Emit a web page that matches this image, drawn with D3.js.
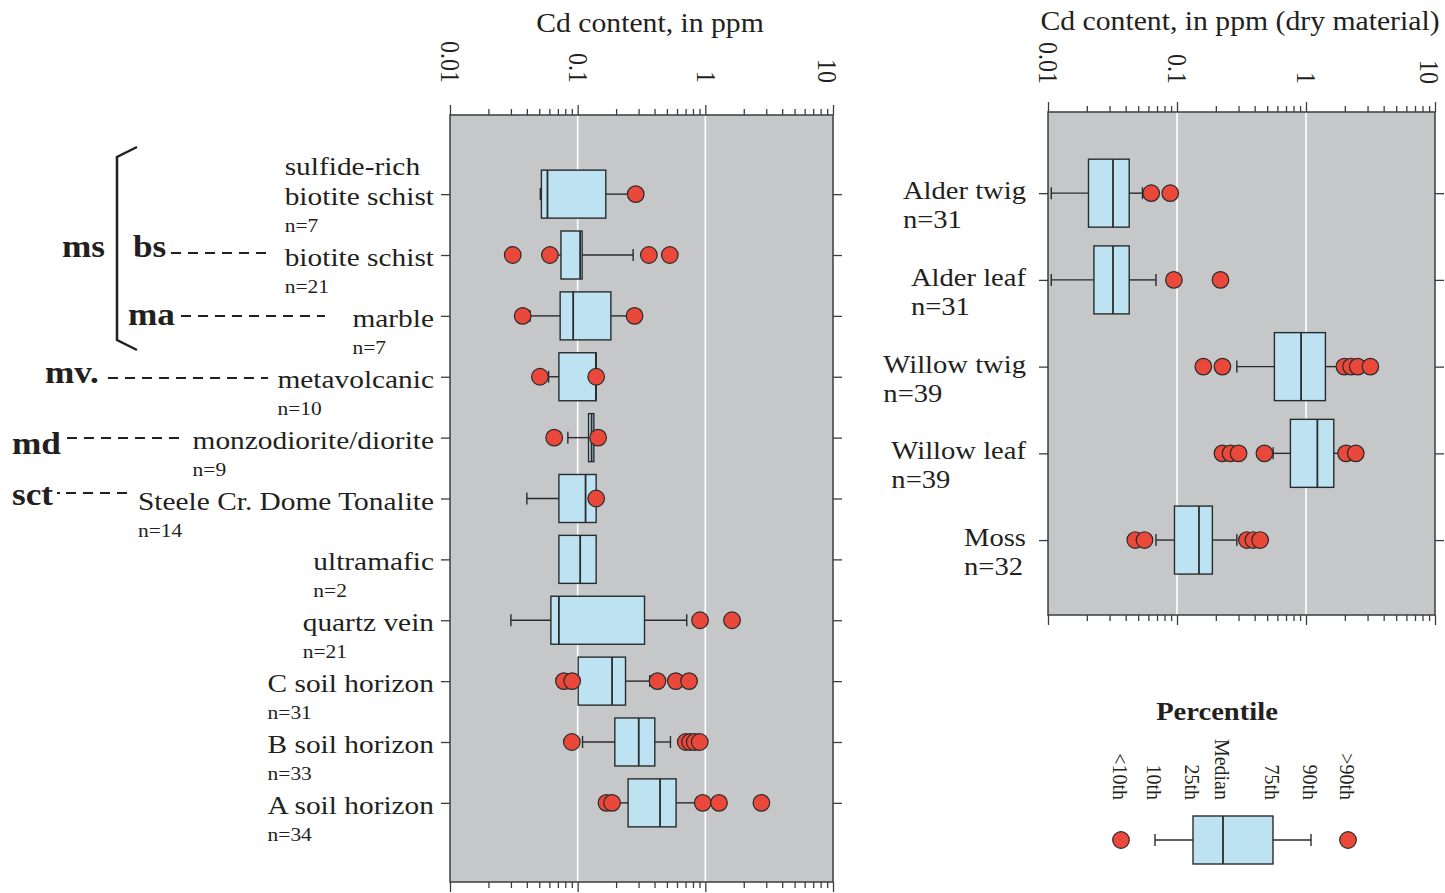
<!DOCTYPE html>
<html lang="en">
<head>
<meta charset="UTF-8">
<title>Cd content</title>
<script src="https://d3js.org/d3.v7.min.js"></script>
<style>
    * { margin: 0; padding: 0; }
    body { background: #fff; }
    svg { display: block; font-family: "Liberation Serif", "Times New Roman", serif; }
</style>
</head>
<body>
<svg id="chart" width="1445" height="893"></svg>
<script>
// left panel: rocks, veins and soils (Cd, ppm)
const leftCats = ['sulfide-rich\nbiotite schist', 'biotite schist', 'marble', 'metavolcanic',
    'monzodiorite/diorite', 'Steele Cr. Dome Tonalite', 'ultramafic', 'quartz vein',
    'C soil horizon', 'B soil horizon', 'A soil horizon'];
const leftN   = [7, 21, 7, 10, 9, 14, 2, 21, 31, 33, 34];
const leftP10 = [0.051, 0.0675, 0.0423, 0.0592, 0.0838, 0.040, 0.0713, 0.030, 0.1009, 0.1092, 0.20];
const leftQ1  = [0.052, 0.074, 0.0729, 0.0713, 0.1217, 0.0713, 0.0713, 0.0617, 0.1009, 0.1955, 0.2484];
const leftMed = [0.058, 0.1046, 0.0922, 0.139, 0.1285, 0.1153, 0.1046, 0.0713, 0.186, 0.301, 0.442];
const leftQ3  = [0.166, 0.1084, 0.182, 0.1396, 0.1339, 0.1396, 0.1396, 0.334, 0.237, 0.402, 0.590];
const leftP90 = [0.26, 0.272, 0.264, 0.1396, 0.1339, 0.1396, 0.1396, 0.715, 0.367, 0.533, 0.90];
const leftOut = [
    [0.285],
    [0.031, 0.0606, 0.361, 0.527],
    [0.0371, 0.279],
    [0.0506, 0.1396],
    [0.0655, 0.1446],
    [0.1396],
    [],
    [0.909, 1.618],
    [0.078, 0.0906, 0.422, 0.587, 0.746],
    [0.090, 0.7025, 0.76, 0.826, 0.904],
    [0.168, 0.186, 0.954, 1.28, 2.748]
];

// right panel: vegetation (Cd, ppm dry material)
const rightCats = ['Alder twig', 'Alder leaf', 'Willow twig', 'Willow leaf', 'Moss'];
const rightN   = [31, 31, 39, 39, 32];
const rightP10 = [0.0106, 0.0106, 0.291, 0.556, 0.0687];
const rightQ1  = [0.0206, 0.0227, 0.569, 0.757, 0.0956];
const rightMed = [0.0319, 0.0319, 0.916, 1.225, 0.148];
const rightQ3  = [0.0426, 0.0426, 1.414, 1.642, 0.188];
const rightP90 = [0.054, 0.0687, 1.84, 1.84, 0.291];
const rightOut = [
    [0.0631, 0.0886],
    [0.0946, 0.2173],
    [0.160, 0.225, 1.984, 2.236, 2.519, 3.154],
    [0.225, 0.26, 0.30, 0.476, 2.045, 2.431],
    [0.0475, 0.056, 0.348, 0.391, 0.441]
];

// axis ticks
const majorVals = [0.01, 0.1, 1, 10];
const majorLabels = ['0.01', '0.1', '1', '10'];
const legendLabels = ['<10th', '10th', '25th', 'Median', '75th', '90th', '>90th'];
const groupCodes = ['ms', 'bs', 'ma', 'mv.', 'md', 'sct'];

const SX = 1.1;            // text in the original is a bit wide
const SXL = 1.13;          // category labels are wider still
const TEXT = '#231f20';
const AXIS = '#3d3d3d';
const GRAY = '#c6c7c9';
const BOX = '#bde3f3';
const DOT = '#e9483a';

const svg = d3.select('#chart');

const tickVals = [];
[0.01, 0.1, 1].forEach(d => {
    for (let k = 1; k <= 9; k++) tickVals.push(+(k * d).toPrecision(6));
});
tickVals.push(10);
const isMajor = d => Math.abs(Math.log10(d) - Math.round(Math.log10(d))) < 1e-9;

function txt(g, x, y, s, size, anchor, weight, sx) {
    return g.append('text')
        .attr('transform', `translate(${x},${y}) scale(${sx || SX},1)`)
        .attr('text-anchor', anchor || 'start')
        .attr('fill', TEXT)
        .style('font-size', size + 'px')
        .style('font-weight', weight || 'normal')
        .text(s);
}

function logAxis(g, x, orient, ty, labelY) {
    const ax = (orient === 'top' ? d3.axisTop(x) : d3.axisBottom(x))
        .tickValues(tickVals)
        .tickSize(6)
        .tickSizeOuter(0)
        .tickFormat(d => {
            const k = majorVals.findIndex(m => Math.abs(m - d) < 1e-9);
            return (orient === 'top' && k >= 0) ? majorLabels[k] : '';
        });
    const a = g.append('g').attr('transform', `translate(0,${ty})`).call(ax);
    a.attr('font-size', null).attr('font-family', null).attr('color', AXIS);
    a.select('.domain').remove();
    a.selectAll('.tick line').attr('stroke-width', 1.3)
        .filter(d => isMajor(d))
        .attr('y2', orient === 'top' ? -10 : 10);
    if (orient === 'top') {
        a.selectAll('.tick text')
            .attr('x', 0).attr('y', 0).attr('dy', '0.35em')
            .attr('text-anchor', 'end')
            .attr('fill', TEXT)
            .style('font-size', '24px')
            // the last label sits a little inside the frame, as in the original
            .attr('transform', d => `translate(${d >= 10 ? -6 : 0},${labelY - ty}) scale(${SX},1) rotate(90)`);
    }
}

function panel(cfg) {
    const g = svg.append('g');
    const x = d3.scaleLog().domain([0.01, 10]).range([cfg.x0, cfg.x1]);
    const y = d3.scalePoint().domain(cfg.cats).range([cfg.y0, cfg.y1])
        .padding(cfg.pad).align(cfg.align);

    g.append('rect')
        .attr('x', cfg.x0).attr('y', cfg.y0)
        .attr('width', cfg.x1 - cfg.x0).attr('height', cfg.y1 - cfg.y0)
        .attr('fill', GRAY);

    g.selectAll('line.grid').data([0.1, 1]).join('line')
        .attr('class', 'grid')
        .attr('x1', d => x(d)).attr('x2', d => x(d))
        .attr('y1', cfg.y0).attr('y2', cfg.y1)
        .attr('stroke', '#fff').attr('stroke-width', 1.6);

    logAxis(g, x, 'top', cfg.y0, cfg.tickLabelY);
    logAxis(g, x, 'bottom', cfg.y1);

    [['left', cfg.x0], ['right', cfg.x1]].forEach(([side, px]) => {
        const ax = (side === 'left' ? d3.axisLeft(y) : d3.axisRight(y))
            .tickSize(9).tickSizeOuter(0).tickFormat('');
        const a = g.append('g').attr('transform', `translate(${px},0)`).call(ax);
        a.attr('color', AXIS);
        a.select('.domain').remove();
        a.selectAll('.tick line').attr('stroke-width', 1.3);
    });

    g.append('rect')
        .attr('x', cfg.x0).attr('y', cfg.y0)
        .attr('width', cfg.x1 - cfg.x0).attr('height', cfg.y1 - cfg.y0)
        .attr('fill', 'none').attr('stroke', AXIS).attr('stroke-width', 1.5);

    const rows = cfg.cats.map((c, i) => ({
        cat: c, n: cfg.n[i], p10: cfg.p10[i], q1: cfg.q1[i], med: cfg.med[i],
        q3: cfg.q3[i], p90: cfg.p90[i], out: cfg.out[i]
    }));
    const h = cfg.boxH;

    const rg = g.selectAll('g.row').data(rows).join('g')
        .attr('class', 'row')
        .attr('transform', d => `translate(0,${y(d.cat)})`);

    rg.each(function (d) {
        const r = d3.select(this);
        const ln = (x1, y1, x2, y2) => r.append('line')
            .attr('x1', x1).attr('y1', y1).attr('x2', x2).attr('y2', y2)
            .attr('stroke', '#2b2b2b').attr('stroke-width', 1.4);
        if (d.p10 < d.q1) {
            ln(x(d.p10), 0, x(d.q1), 0);
            ln(x(d.p10), -6, x(d.p10), 6);
        }
        if (d.p90 > d.q3) {
            ln(x(d.q3), 0, x(d.p90), 0);
            ln(x(d.p90), -6, x(d.p90), 6);
        }
        r.append('rect')
            .attr('x', x(d.q1)).attr('y', -h / 2)
            .attr('width', x(d.q3) - x(d.q1)).attr('height', h)
            .attr('fill', BOX).attr('stroke', '#2b2b2b').attr('stroke-width', 1.4);
        ln(x(d.med), -h / 2, x(d.med), h / 2).attr('stroke-width', 1.8);
        r.selectAll('circle').data(d.out).join('circle')
            .attr('cx', v => x(v)).attr('cy', 0).attr('r', 8.3)
            .attr('fill', DOT).attr('stroke', '#2b2b2b').attr('stroke-width', 1.2);
    });

    // category labels (a left-aligned block ending at labelX), counts under them
    rows.forEach(d => {
        const cy = y(d.cat);
        const lines = d.cat.split('\n');
        const ts = lines.map((s, j) =>
            txt(g, 0, cy + cfg.labelDy - (lines.length - 1 - j) * 30, s, cfg.labelSize, 'start', null, cfg.sx));
        const w = d3.max(ts, t => t.node().getComputedTextLength() * cfg.sx);
        const left = cfg.labelX - w;
        ts.forEach((t, j) => t.attr('transform',
            `translate(${left},${cy + cfg.labelDy - (lines.length - 1 - j) * 30}) scale(${cfg.sx},1)`));
        txt(g, left, cy + cfg.nDy, 'n=' + d.n, cfg.nSize, 'start', null, cfg.sx);
    });

    txt(g, cfg.titleX, cfg.titleY, cfg.title, 27, 'middle');
    return { x, y };
}

panel({
    cats: leftCats, n: leftN, p10: leftP10, q1: leftQ1, med: leftMed, q3: leftQ3, p90: leftP90, out: leftOut,
    x0: 450, x1: 833, y0: 115, y1: 882, pad: 1.3, align: 0.5, boxH: 48,
    labelX: 434, labelDy: 11, nDy: 38, labelSize: 26, nSize: 19, sx: SXL,
    title: 'Cd content, in ppm', titleX: 650, titleY: 32, tickLabelY: 83
});

panel({
    cats: rightCats, n: rightN, p10: rightP10, q1: rightQ1, med: rightMed, q3: rightQ3, p90: rightP90, out: rightOut,
    x0: 1048, x1: 1435, y0: 112, y1: 615, pad: 0.9, align: 0.52, boxH: 68,
    labelX: 1026, labelDy: 6, nDy: 35, labelSize: 26, nSize: 26, sx: SX,
    title: 'Cd content, in ppm (dry material)', titleX: 1240, titleY: 30, tickLabelY: 84
});

// map-unit codes with leader dashes
const ann = svg.append('g');
const groupLayout = [
    { x: 62, y: 257 },
    { x: 133, y: 257, dash: [171, 268, 253] },
    { x: 128, y: 325, dash: [181, 325, 316] },
    { x: 45, y: 383, dash: [108, 268, 378] },
    { x: 12, y: 454, dash: [67, 186, 438] },
    { x: 12, y: 505, dash: [57, 128, 493] }
];
groupCodes.forEach((s, i) => {
    const p = groupLayout[i];
    txt(ann, p.x, p.y, s, 32, 'start', 'bold');
    if (p.dash) {
        ann.append('line')
            .attr('x1', p.dash[0]).attr('x2', p.dash[1])
            .attr('y1', p.dash[2]).attr('y2', p.dash[2])
            .attr('stroke', TEXT).attr('stroke-width', 2)
            .attr('stroke-dasharray', i === 5 ? '3,6,10,7,10,7,10,7,10' : '10,7');
    }
});
ann.append('path')
    .attr('d', 'M137,147 L117,157 L117,340 L137,350')
    .attr('fill', 'none').attr('stroke', TEXT).attr('stroke-width', 2.5);

// percentile legend
const lg = svg.append('g');
const lx = [1121, 1155, 1193, 1223, 1273, 1311, 1348];
const ly = 840;
txt(lg, 1217, 720, 'Percentile', 26, 'middle', 'bold');
legendLabels.forEach((s, i) => {
    lg.append('text')
        .attr('transform', `translate(${lx[i]},800) scale(${SX},1) rotate(90)`)
        .attr('text-anchor', 'end').attr('dy', '0.35em')
        .attr('fill', TEXT).style('font-size', '20px')
        .text(s);
});
const lline = (x1, y1, x2, y2) => lg.append('line')
    .attr('x1', x1).attr('y1', y1).attr('x2', x2).attr('y2', y2)
    .attr('stroke', '#2b2b2b').attr('stroke-width', 1.4);
lline(lx[1], ly, lx[2], ly);
lline(lx[1], ly - 6, lx[1], ly + 6);
lline(lx[4], ly, lx[5], ly);
lline(lx[5], ly - 6, lx[5], ly + 6);
lg.append('rect').attr('x', lx[2]).attr('y', ly - 24).attr('width', lx[4] - lx[2]).attr('height', 48)
    .attr('fill', BOX).attr('stroke', '#2b2b2b').attr('stroke-width', 1.4);
lline(lx[3], ly - 24, lx[3], ly + 24).attr('stroke-width', 1.8);
lg.selectAll('circle').data([lx[0], lx[6]]).join('circle')
    .attr('cx', d => d).attr('cy', ly).attr('r', 8.3)
    .attr('fill', DOT).attr('stroke', '#2b2b2b').attr('stroke-width', 1.2);
</script>
</body>
</html>
